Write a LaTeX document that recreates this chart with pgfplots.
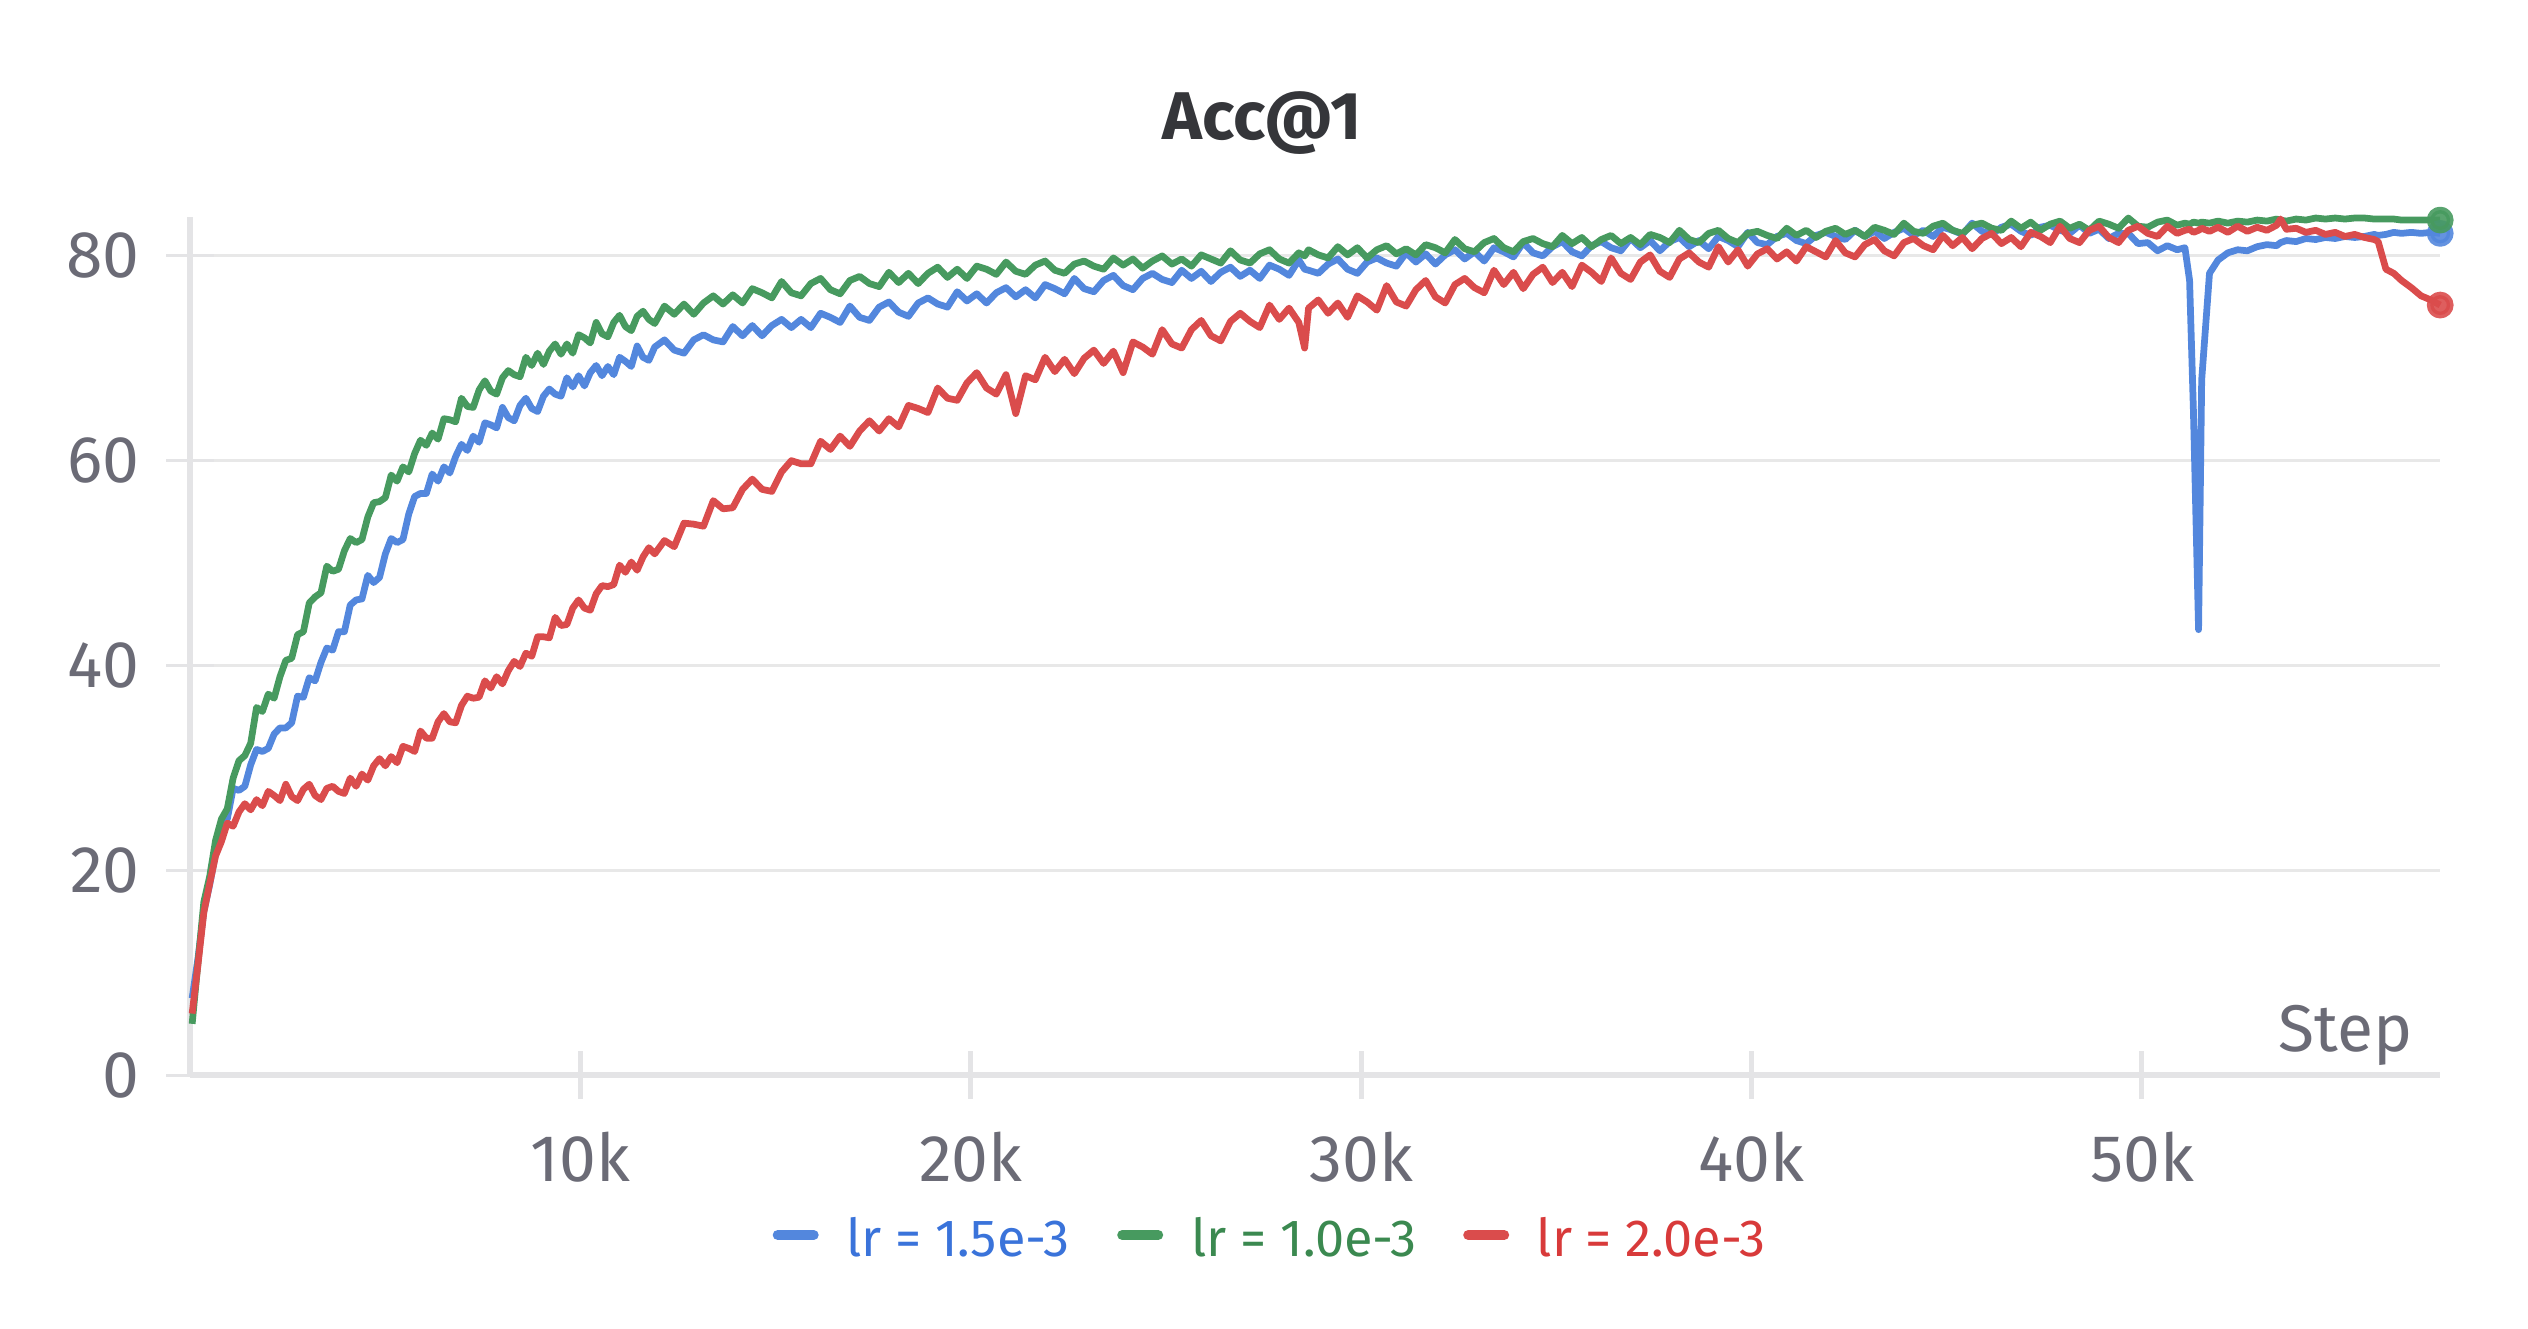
\documentclass[border=0pt]{standalone}
\usepackage{fontspec}
\setmainfont{Fira Sans}
\usepackage{pgfplots}
\pgfplotsset{compat=1.18}
\usepackage{pgfplotstable}
\definecolor{cblue}{HTML}{5387DD}
\definecolor{cgreen}{HTML}{479A5F}
\definecolor{cred}{HTML}{DA4C4C}
\definecolor{tblue}{HTML}{3A73DA}
\definecolor{tgreen}{HTML}{3B8950}
\definecolor{tred}{HTML}{D83A3A}
\definecolor{ticklab}{HTML}{6B6B76}
\definecolor{axisgray}{HTML}{E4E4E6}
\definecolor{gridgray}{HTML}{E8E8E8}
\definecolor{titlec}{HTML}{35363A}

\pgfplotstableread{
step b g r
50 7.5 5.0 6.0
200 11.4 11.0 10.8
350 16.0 16.9 15.9
500 18.6 19.4 18.7
650 21.6 22.9 21.4
800 24.6 25.0 22.8
950 25.0 26.0 24.6
1100 28.0 29.0 24.3
1250 27.8 30.7 25.7
1400 28.2 31.2 26.5
1550 30.3 32.4 25.9
1700 31.8 35.9 26.9
1850 31.6 35.5 26.3
2000 31.9 37.2 27.7
2150 33.3 36.8 27.3
2300 33.9 38.9 26.8
2450 33.9 40.5 28.4
2600 34.4 40.7 27.2
2750 37.0 43.0 26.8
2900 36.9 43.3 27.9
3050 38.8 46.1 28.4
3200 38.5 46.7 27.3
3350 40.3 47.1 26.9
3500 41.7 49.7 28.0
3650 41.5 49.2 28.2
3800 43.3 49.4 27.7
3950 43.3 51.2 27.5
4100 45.9 52.4 29.0
4250 46.4 52.0 28.2
4400 46.5 52.3 29.4
4550 48.8 54.5 28.8
4700 48.1 55.9 30.2
4850 48.6 56.0 30.9
5000 50.9 56.4 30.2
5150 52.4 58.6 31.1
5300 52.0 58.0 30.5
5450 52.3 59.4 32.1
5600 54.8 58.9 31.9
5750 56.5 60.7 31.6
5900 56.8 62.0 33.6
6050 56.8 61.5 32.9
6200 58.7 62.7 32.9
6350 58.0 62.1 34.5
6500 59.4 64.1 35.3
6650 58.8 64.0 34.5
6800 60.4 63.8 34.4
6950 61.6 66.1 36.1
7100 61.0 65.3 37.0
7250 62.4 65.2 36.8
7400 61.8 66.9 36.9
7550 63.7 67.8 38.5
7700 63.5 66.8 37.8
7850 63.2 66.5 38.9
8000 65.2 68.1 38.2
8150 64.2 68.8 39.5
8300 63.9 68.4 40.4
8450 65.4 68.2 39.9
8600 66.1 70.1 41.2
8750 65.1 69.3 40.9
8900 64.8 70.5 42.8
9050 66.3 69.4 42.8
9200 67.0 70.7 42.7
9350 66.5 71.4 44.7
9500 66.3 70.4 43.9
9650 68.1 71.4 44.0
9800 67.2 70.5 45.6
9950 68.3 72.3 46.4
10100 67.3 72.0 45.6
10250 68.6 71.5 45.4
10400 69.3 73.5 47.0
10550 68.3 72.4 47.8
10700 69.2 72.1 47.7
10850 68.4 73.5 47.9
11000 70.1 74.2 49.8
11150 69.7 73.1 49.1
11300 69.2 72.7 50.1
11450 71.2 74.1 49.3
11600 70.1 74.6 50.6
11750 69.8 73.8 51.5
11900 71.1 73.4 50.9
12150 71.8 75.1 52.2
12400 70.8 74.3 51.6
12650 70.5 75.3 53.9
12900 71.8 74.3 53.8
13150 72.3 75.4 53.6
13400 71.8 76.1 56.1
13650 71.6 75.3 55.3
13900 73.1 76.2 55.4
14150 72.2 75.4 57.2
14400 73.2 76.8 58.2
14650 72.2 76.4 57.2
14900 73.2 75.9 57.0
15150 73.8 77.5 58.9
15400 73.0 76.4 60.0
15650 73.8 76.1 59.7
15900 73.0 77.3 59.7
16150 74.4 77.8 61.9
16400 74.0 76.7 61.1
16650 73.5 76.3 62.4
16900 75.1 77.6 61.4
17150 74.0 78.0 62.9
17400 73.7 77.3 63.9
17650 75.0 77.0 62.9
17900 75.5 78.4 64.1
18150 74.5 77.4 63.3
18400 74.1 78.3 65.4
18650 75.4 77.3 65.1
18900 75.9 78.3 64.7
19150 75.3 78.9 67.1
19400 75.0 77.9 66.1
19650 76.5 78.7 65.9
19900 75.6 77.8 67.6
20150 76.3 79.0 68.6
20400 75.4 78.7 67.1
20650 76.4 78.2 66.5
20900 76.9 79.4 68.4
21150 76.0 78.5 64.6
21400 76.7 78.2 68.3
21650 75.9 79.1 67.9
21900 77.2 79.5 70.1
22150 76.8 78.6 68.7
22400 76.3 78.3 69.9
22650 77.8 79.2 68.5
22900 76.8 79.5 70.0
23150 76.5 79.0 70.8
23400 77.6 78.7 69.5
23650 78.1 79.8 70.7
23900 77.1 79.1 68.6
24150 76.7 79.7 71.6
24400 77.8 78.8 71.1
24650 78.3 79.5 70.4
24900 77.7 80.0 72.8
25150 77.4 79.2 71.4
25400 78.6 79.7 71.0
25650 77.8 79.0 72.8
25900 78.5 80.1 73.7
26150 77.5 79.7 72.2
26400 78.4 79.3 71.7
26650 78.9 80.5 73.6
26900 78.0 79.6 74.4
27150 78.6 79.3 73.6
27400 77.8 80.2 73.0
27650 79.1 80.6 75.2
27900 78.7 79.7 73.8
28150 78.1 79.3 74.9
28400 79.6 80.3 73.5
28550 78.7 80.0 71.0
28650 78.6 80.6 74.9
28900 78.3 80.1 75.7
29150 79.2 79.8 74.4
29400 79.7 80.9 75.4
29650 78.7 80.1 74.0
29900 78.3 80.8 76.1
30150 79.4 79.8 75.5
30400 79.8 80.6 74.7
30650 79.3 81.0 77.1
30900 79.0 80.2 75.5
31150 80.3 80.7 75.1
31400 79.4 80.1 76.7
31650 80.2 81.1 77.6
31900 79.2 80.8 76.0
32150 80.1 80.3 75.4
32400 80.6 81.6 77.2
32650 79.7 80.7 77.8
32900 80.4 80.4 76.9
33150 79.5 81.3 76.4
33400 80.8 81.7 78.6
33650 80.4 80.8 77.2
33900 79.9 80.4 78.4
34150 81.3 81.4 76.8
34400 80.3 81.7 78.2
34650 80.0 81.2 78.9
34900 80.9 80.9 77.4
35150 81.4 82.0 78.4
35400 80.4 81.2 77.0
35650 80.0 81.8 79.1
35900 81.0 80.9 78.4
36150 81.4 81.6 77.5
36400 80.8 82.0 79.8
36650 80.5 81.2 78.3
36900 81.7 81.8 77.7
37150 80.8 81.1 79.4
37400 81.5 82.1 80.1
37650 80.5 81.8 78.5
37900 81.4 81.3 77.9
38150 81.8 82.5 79.7
38400 80.9 81.6 80.3
38650 81.5 81.3 79.4
38900 80.7 82.2 78.9
39150 81.9 82.5 80.9
39400 81.5 81.7 79.4
39650 80.9 81.3 80.6
39900 82.3 82.2 79.0
40150 81.3 82.4 80.2
40400 81.1 82.0 80.7
40650 81.9 81.7 79.7
40900 82.2 82.7 80.4
41150 81.5 82.0 79.5
41400 81.2 82.5 80.9
41650 82.0 81.8 80.4
41900 82.3 82.4 79.9
42150 81.9 82.7 81.5
42400 81.6 82.1 80.3
42650 82.5 82.5 79.9
42900 81.9 81.9 81.1
43150 82.4 82.8 81.6
43400 81.7 82.5 80.5
43650 82.3 82.1 80.0
43900 82.7 83.2 81.3
44150 82.0 82.4 81.7
44400 82.5 82.2 81.0
44650 81.9 82.9 80.6
44900 82.8 83.2 82.0
45150 82.5 82.5 81.0
45400 82.1 82.2 81.8
45650 83.2 83.0 80.7
45900 82.4 83.2 81.7
46150 82.1 82.7 82.2
46400 82.8 82.5 81.2
46650 83.1 83.4 81.8
46900 82.4 82.7 80.9
47150 82.0 83.3 82.3
47400 82.8 82.5 81.9
47650 83.0 83.1 81.3
47900 82.5 83.4 82.9
48150 82.2 82.7 81.7
48400 83.0 83.1 81.3
48650 82.2 82.5 82.5
48900 82.6 83.4 82.9
49150 81.7 83.1 81.8
49400 82.2 82.7 81.3
49650 82.2 83.7 82.5
49900 81.2 82.9 82.9
50150 81.3 82.8 82.2
50400 80.5 83.3 81.9
50650 81.0 83.5 82.9
50900 80.6 83.0 82.2
51100 80.8 83.2 82.5
51220 77.6 83.1 82.6
51320 64.6 83.3 82.3
51450 43.5 83.2 82.5
51530 67.9 83.3 82.7
51730 78.3 83.2 82.4
51950 79.6 83.4 82.8
52200 80.3 83.2 82.3
52450 80.6 83.4 82.9
52700 80.5 83.3 82.4
52950 80.9 83.5 82.8
53200 81.1 83.4 82.5
53450 81.0 83.6 83.0
53550 81.3 83.5 83.6
53700 81.5 83.4 82.6
53950 81.4 83.6 82.7
54200 81.7 83.5 82.3
54450 81.6 83.7 82.5
54700 81.8 83.6 82.1
54950 81.7 83.7 82.3
55200 81.9 83.6 81.9
55450 81.8 83.7 82.1
55700 81.9 83.7 81.8
55950 82.1 83.6 81.6
56050 82.0 83.6 81.4
56250 82.1 83.6 78.7
56450 82.3 83.6 78.3
56650 82.2 83.5 77.6
56900 82.3 83.5 76.9
57150 82.2 83.5 76.1
57400 82.3 83.5 75.7
57640 82.2 83.5 75.2
}\acctable

\begin{document}
\begin{tikzpicture}
\path[use as bounding box] (-38.04pt,-50.6pt) rectangle (467.56pt,215pt);
\begin{axis}[
  at={(0pt,0pt)}, anchor=south west,
  scale only axis, width=450pt, height=171.6pt,
  xmin=0, xmax=57640, ymin=0, ymax=83.8,
  axis x line*=bottom, axis y line*=left,
  axis line style={draw=axisgray, line width=1.3pt},
  scaled x ticks=false, scaled y ticks=false,
  xtick={10000,20000,30000,40000,50000},
  xticklabels={10k,20k,30k,40k,50k},
  ytick={0,20,40,60,80},
  yticklabels={0,20,40,60,80},
  ymajorgrids, grid style={draw=gridgray, line width=0.6pt},
  tick align=center, major tick length=9.6pt,
  xtick style={draw=axisgray, line width=1pt},
  ytick style={draw=axisgray, line width=0.6pt},
  tick label style={font=\fontsize{13.2}{14}\selectfont, text=ticklab},
  xticklabel style={anchor=base, inner sep=0pt, yshift=-16.5pt},
  yticklabel style={anchor=east, inner sep=0pt, xshift=-5.1pt},
  clip=false,
  every axis plot/.append style={line width=1.35pt, line join=round},
]
\addplot[cblue, no marks] table[x=step, y=b] {\acctable};
\addplot[cgreen, no marks] table[x=step, y=g] {\acctable};
\addplot[cred, no marks] table[x=step, y=r] {\acctable};
\addplot[only marks, mark=*, mark size=2pt, cblue, mark options={fill=cblue, draw=none, opacity=0.9}] coordinates {(57640,82.2)};
\addplot[only marks, mark=*, mark size=2pt, cgreen, mark options={fill=cgreen, draw=none, opacity=0.9}] coordinates {(57640,83.5)};
\addplot[only marks, mark=*, mark size=2pt, cred, mark options={fill=cred, draw=none, opacity=0.9}] coordinates {(57640,75.2)};
\node[anchor=base east, inner sep=0pt, font=\fontsize{13.2}{14}\selectfont, text=ticklab] at (rel axis cs:1,0) [xshift=-5.4pt, yshift=4.7pt] {Step};
\end{axis}
\node[anchor=base, inner sep=0pt, font=\fontsize{13.5}{15}\selectfont\bfseries, text=titlec] at (214.4pt,187pt) {Acc@1};
\begin{scope}[font=\fontsize{10.45}{12}\selectfont]
\draw[cblue, line width=2pt, line cap=round] (117.5pt,-32pt) -- (124.7pt,-32pt);
\node[anchor=base west, inner sep=0pt, text=tblue] at (130.96pt,-36.2pt) {lr = 1.5e-3};
\draw[cgreen, line width=2pt, line cap=round] (186.4pt,-32pt) -- (193.6pt,-32pt);
\node[anchor=base west, inner sep=0pt, text=tgreen] at (200pt,-36.2pt) {lr = 1.0e-3};
\draw[cred, line width=2pt, line cap=round] (255.6pt,-32pt) -- (262.8pt,-32pt);
\node[anchor=base west, inner sep=0pt, text=tred] at (269.1pt,-36.2pt) {lr = 2.0e-3};
\end{scope}
\end{tikzpicture}
\end{document}
